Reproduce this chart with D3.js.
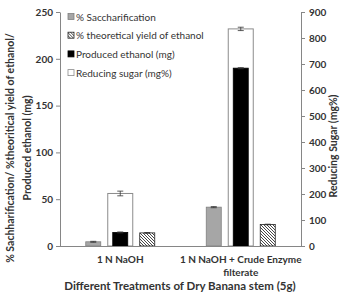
<!DOCTYPE html>
<html>
<head>
<meta charset="utf-8">
<script src="https://cdn.jsdelivr.net/npm/d3@7"></script>
<style>
body { margin: 0; background: #fff; }
text { font-family: Lato, "Open Sans", sans-serif; fill: #333; }
</style>
</head>
<body>
<div id="chart"></div>
<script>
var width = 346;
var height = 292;

// data
var treatments = ["1 N NaOH", "1 N NaOH + Crude Enzyme filterate"];
var primarySeries = ["sacch", "ethanol", "theo"];
var sacch = [4.5, 41.5];
var sacchErr = [0.5, 0.6];
var ethanol = [14.5, 190];
var ethanolErr = [0.5, 0.6];
var theo = [14, 23];
var theoErr = [0.4, 0.3];
var sugar = [202, 835];
var sugarErr = [9, 6.5];
var leftTicks = [0, 50, 100, 150, 200, 250];
var rightTicks = [0, 100, 200, 300, 400, 500, 600, 700, 800, 900];
var legendLabels = ["% Saccharification", "% theoretical yield of ethanol", "Produced ethanol (mg)", "Reducing sugar (mg%)"];

var m = {left: 60, right: 301, top: 12, bottom: 246};

var svg = d3.select("#chart").append("svg")
	.attr("width", width)
	.attr("height", height);

var defs = svg.append("defs");
defs.append("pattern")
	.attr("id", "hatch")
	.attr("patternUnits", "userSpaceOnUse")
	.attr("width", 3)
	.attr("height", 3)
	.append("path")
	.attr("d", "M-1,-1 L4,4 M2,-1 L4,1 M-1,2 L1,4")
	.attr("stroke", "#333")
	.attr("stroke-width", 0.9);

var x0 = d3.scaleBand().domain(treatments).range([m.left, m.right]);
var x1 = d3.scaleBand().domain(primarySeries).range([-34.5, 34.5]).paddingInner(0.444);
var yL = d3.scaleLinear().domain([0, 250]).range([m.bottom, m.top]);
var yR = d3.scaleLinear().domain([0, 900]).range([m.bottom, m.top]);

var styles = {
	sacch: {fill: "#a6a6a6", stroke: "#808080"},
	ethanol: {fill: "#000", stroke: "#000"},
	theo: {fill: "url(#hatch)", stroke: "#222"},
	sugar: {fill: "#fff", stroke: "#8c8c8c"}
};

var rows = treatments.map(function(t, i){
	return {
		t: t,
		sacch: sacch[i], sacchErr: sacchErr[i],
		ethanol: ethanol[i], ethanolErr: ethanolErr[i],
		theo: theo[i], theoErr: theoErr[i],
		sugar: sugar[i], sugarErr: sugarErr[i]
	};
});

// axes
var axL = svg.append("g").attr("transform", "translate(" + m.left + ",0)")
	.call(d3.axisLeft(yL).tickValues(leftTicks).tickSize(4).tickSizeOuter(0));
var axR = svg.append("g").attr("transform", "translate(" + m.right + ",0)")
	.call(d3.axisRight(yR).tickValues(rightTicks).tickSize(4).tickSizeOuter(0));
[axL, axR].forEach(function(a){
	a.select(".domain").attr("stroke", "#868686");
	a.selectAll(".tick line").attr("stroke", "#868686");
	a.selectAll(".tick text")
		.attr("fill", "#333")
		.style("font-family", "Lato, sans-serif")
		.style("font-size", "10px")
		.style("font-weight", "bold");
});
axL.selectAll(".tick text").attr("x", -7);
axR.selectAll(".tick text").attr("x", 8);

// secondary series (reducing sugar) drawn first, wide
var wS = 25;
var g = svg.append("g");
g.selectAll("rect.sugar")
	.data(rows)
	.enter()
	.append("rect")
	.attr("class", "sugar")
	.attr("x", function(d){ return x0(d.t) + x0.bandwidth()/2 - wS/2; })
	.attr("y", function(d){ return yR(d.sugar); })
	.attr("width", wS)
	.attr("height", function(d){ return yR(0) - yR(d.sugar); })
	.attr("fill", styles.sugar.fill)
	.attr("stroke", styles.sugar.stroke)
	.attr("stroke-width", 1);

// primary series
primarySeries.forEach(function(s){
	g.selectAll("rect." + s)
		.data(rows)
		.enter()
		.append("rect")
		.attr("class", s)
		.attr("x", function(d){ return x0(d.t) + x0.bandwidth()/2 + x1(s); })
		.attr("y", function(d){ return yL(d[s]); })
		.attr("width", x1.bandwidth())
		.attr("height", function(d){ return yL(0) - yL(d[s]); })
		.attr("fill", styles[s].fill)
		.attr("stroke", styles[s].stroke)
		.attr("stroke-width", 0.8);
});

// error bars
function errBar(cx, yTop, yBot){
	g.append("line").attr("x1", cx).attr("x2", cx).attr("y1", yTop).attr("y2", yBot)
		.attr("stroke", "#333").attr("stroke-width", 0.8);
	[yTop, yBot].forEach(function(yy){
		g.append("line").attr("x1", cx - 3).attr("x2", cx + 3).attr("y1", yy).attr("y2", yy)
			.attr("stroke", "#333").attr("stroke-width", 0.8);
	});
}
rows.forEach(function(d){
	var c = x0(d.t) + x0.bandwidth()/2;
	errBar(c, yR(d.sugar + d.sugarErr), yR(d.sugar - d.sugarErr));
	primarySeries.forEach(function(s){
		var cx = c + x1(s) + x1.bandwidth()/2;
		errBar(cx, yL(d[s] + d[s + "Err"]), yL(d[s] - d[s + "Err"]));
	});
});

// bottom axis line
svg.append("line")
	.attr("x1", m.left).attr("x2", m.right)
	.attr("y1", m.bottom + 0.5).attr("y2", m.bottom + 0.5)
	.attr("stroke", "#868686");

// category labels
var catLines = [["1 N NaOH"], ["1 N NaOH + Crude Enzyme", "filterate"]];
treatments.forEach(function(t, i){
	var tx = svg.append("text")
		.attr("x", x0(t) + x0.bandwidth()/2)
		.attr("y", 263)
		.attr("text-anchor", "middle")
		.style("font-size", "10px")
		.style("font-weight", "bold");
	catLines[i].forEach(function(l, j){
		tx.append("tspan").attr("x", x0(t) + x0.bandwidth()/2).attr("dy", j === 0 ? 0 : 13).text(l);
	});
});

// axis titles
svg.append("text")
	.attr("x", 180).attr("y", 290)
	.attr("text-anchor", "middle")
	.style("font-size", "11.5px")
	.style("font-weight", "bold")
	.text("Different Treatments of Dry Banana stem (5g)");

var yt = svg.append("text")
	.attr("transform", "translate(14,148) rotate(-90)")
	.attr("text-anchor", "middle")
	.style("font-size", "10.5px")
	.style("font-weight", "bold");
yt.append("tspan").attr("x", 0).attr("dy", 0).text("% Sachharification/ %theoritical yield of ethanol/");
yt.append("tspan").attr("x", 0).attr("dy", 17).text("Produced ethanol (mg)");

svg.append("text")
	.attr("transform", "translate(337,146) rotate(-90)")
	.attr("text-anchor", "middle")
	.style("font-size", "10.5px")
	.style("font-weight", "bold")
	.text("Reducing Sugar (mg%)");

// legend
var legendKeys = ["sacch", "theo", "ethanol", "sugar"];
var lg = svg.append("g").selectAll("g")
	.data(legendLabels)
	.enter()
	.append("g")
	.attr("transform", function(d, i){ return "translate(68," + (17 + i * 18.7) + ")"; });
lg.append("rect")
	.attr("x", 0).attr("y", -3.5)
	.attr("width", 6).attr("height", 6)
	.attr("fill", function(d, i){ return styles[legendKeys[i]].fill; })
	.attr("stroke", function(d, i){ return styles[legendKeys[i]].stroke; })
	.attr("stroke-width", 0.8);
lg.append("text")
	.attr("x", 8).attr("y", 3.5)
	.style("font-size", "10px")
	.text(function(d){ return d; });
</script>
</body>
</html>
